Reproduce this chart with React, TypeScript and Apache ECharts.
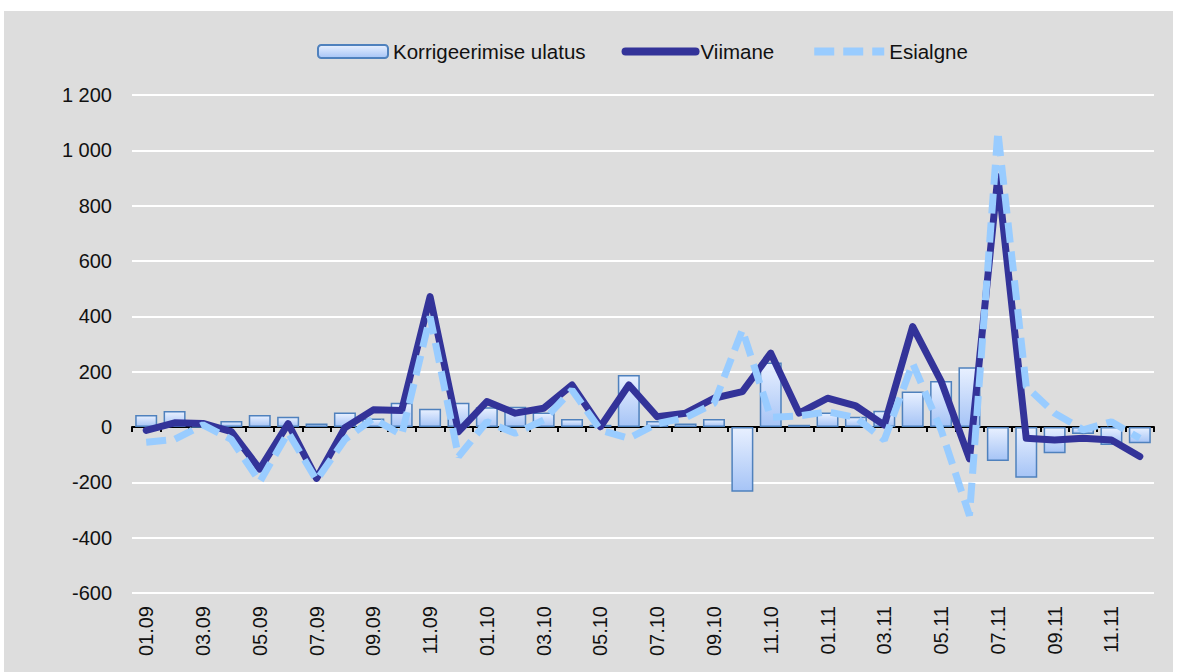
import React, { useEffect, useRef } from "react";
import * as echarts from "echarts";

const categories = [
  "01.09", "02.09", "03.09", "04.09", "05.09", "06.09", "07.09", "08.09", "09.09", "10.09", "11.09", "12.09",
  "01.10", "02.10", "03.10", "04.10", "05.10", "06.10", "07.10", "08.10", "09.10", "10.10", "11.10", "12.10",
  "01.11", "02.11", "03.11", "04.11", "05.11", "06.11", "07.11", "08.11", "09.11", "10.11", "11.11", "12.11",
];

const korrigeerimiseUlatus = [
  43, 58, 0, 22, 43, 37, 13, 52, 31, 88, 66, 88,
  71, 73, 52, 29, 8, 188, 22, 13, 29, -234, 233, 8,
  52, 37, 59, 128, 166, 216, -123, -183, -95, -25, -65, -59,
];

const viimane = [
  -12, 15, 13, -17, -152, 12, -186, -3, 62, 60, 471, -17,
  92, 50, 68, 152, 1, 152, 37, 50, 104, 128, 267, 50,
  104, 76, 7, 363, 166, -115, 905, -41, -47, -41, -47, -107,
];

const esialgne = [
  -55, -45, 8, -45, -198, -20, -192, -45, 31, -29, 399, -107,
  19, -23, 25, 134, -11, -41, 12, 34, 85, 351, 35, 40,
  55, 34, -47, 230, -10, -320, 1068, 146, 50, -10, 19, -41,
];

const yMin = -600;
const yMax = 1200;
const yStep = 200;

const FONT = "'Liberation Sans', Arial, Helvetica, sans-serif";

function fmt(v: number): string {
  const s = String(Math.abs(v)).replace(/\B(?=(\d{3})+(?!\d))/g, " ");
  return (v < 0 ? "-" : "") + s;
}

export default function App() {
  const ref = useRef<HTMLDivElement>(null);

  useEffect(() => {
    if (!ref.current) return;
    const chart = echarts.init(ref.current, undefined, { renderer: "svg" });
    const option: any = {
      animation: false,
      backgroundColor: "#dddddd",
      textStyle: { fontFamily: FONT },
      legend: {
        top: 25,
        left: 308,
        itemWidth: 70,
        itemHeight: 13,
        itemGap: 36,
        textStyle: { fontSize: 20.5, color: "#111", fontFamily: FONT },
        data: [
          { name: "Korrigeerimise ulatus" },
          { name: "Viimane", itemStyle: { opacity: 0 }, lineStyle: { width: 8, cap: "round" } },
          { name: "Esialgne", itemStyle: { opacity: 0 }, lineStyle: { width: 8, type: [20, 9] } },
        ],
      },
      grid: { left: 128, right: 19, top: 84, bottom: 79, containLabel: false },
      xAxis: [
        {
          type: "category",
          data: categories,
          position: "bottom",
          boundaryGap: true,
          axisLine: { show: false, onZero: false },
          axisTick: { show: false },
          splitLine: { show: false },
          axisLabel: {
            rotate: 90,
            interval: 1,
            fontSize: 20,
            color: "#111",
            margin: 13,
            fontFamily: FONT,
          },
        },
        {
          type: "category",
          data: categories,
          position: "bottom",
          boundaryGap: true,
          axisLine: { show: true, onZero: true, lineStyle: { color: "#000", width: 2 } },
          axisTick: { show: true, interval: 0, length: 5, lineStyle: { color: "#000", width: 2 } },
          axisLabel: { show: false },
          splitLine: { show: false },
        },
      ],
      yAxis: {
        type: "value",
        min: yMin,
        max: yMax,
        interval: yStep,
        axisLine: { show: false },
        axisTick: { show: false },
        splitLine: { lineStyle: { color: "#ffffff", width: 2 } },
        axisLabel: {
          fontSize: 20,
          color: "#111",
          margin: 20,
          fontFamily: FONT,
          formatter: (v: number) => fmt(v),
        },
      },
      series: [
        {
          name: "Korrigeerimise ulatus",
          type: "bar",
          data: korrigeerimiseUlatus,
          barWidth: 22,
          itemStyle: {
            color: new echarts.graphic.LinearGradient(0, 0, 0, 1, [
              { offset: 0, color: "#e8f0ff" },
              { offset: 1, color: "#a6c4f6" },
            ]),
            borderColor: "#4f81bd",
            borderWidth: 1.5,
          },
          z: 1,
        },
        {
          name: "Viimane",
          type: "line",
          data: viimane,
          symbol: "none",
          itemStyle: { color: "#333399" },
          lineStyle: { color: "#333399", width: 7, cap: "round", join: "round" },
          z: 3,
        },
        {
          name: "Esialgne",
          type: "line",
          data: esialgne,
          symbol: "none",
          itemStyle: { color: "#99ccff" },
          lineStyle: { color: "#99ccff", width: 7, type: [20, 9] },
          z: 4,
        },
      ],
    };
    chart.setOption(option);
    return () => chart.dispose();
  }, []);

  return (
    <div style={{ position: "fixed", left: 0, top: 0, width: 1180, height: 672, background: "#ffffff" }}>
      <div ref={ref} style={{ position: "absolute", left: 4, top: 11, width: 1169, height: 661 }} />
    </div>
  );
}
